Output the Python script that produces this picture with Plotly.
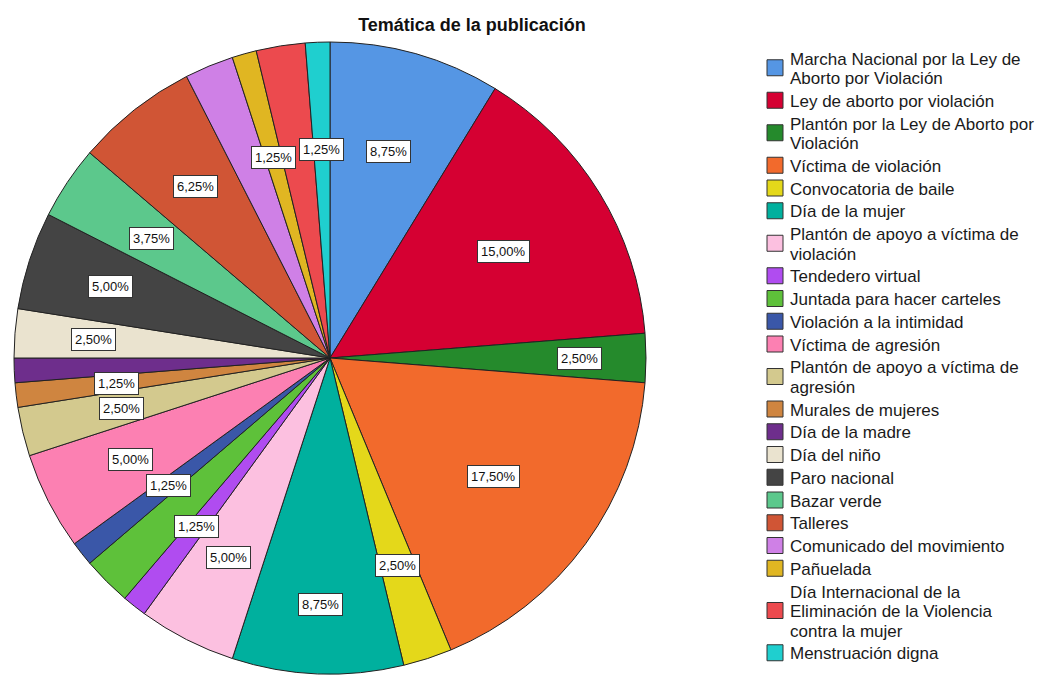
import math
import plotly.graph_objects as go

categories = [
    "Marcha Nacional por la Ley de<br>Aborto por Violación",
    "Ley de aborto por violación",
    "Plantón por la Ley de Aborto por<br>Violación",
    "Víctima de violación",
    "Convocatoria de baile",
    "Día de la mujer",
    "Plantón de apoyo a víctima de<br>violación",
    "Tendedero virtual",
    "Juntada para hacer carteles",
    "Violación a la intimidad",
    "Víctima de agresión",
    "Plantón de apoyo a víctima de<br>agresión",
    "Murales de mujeres",
    "Día de la madre",
    "Día del niño",
    "Paro nacional",
    "Bazar verde",
    "Talleres",
    "Comunicado del movimiento",
    "Pañuelada",
    "Día Internacional de la<br>Eliminación de la Violencia<br>contra la mujer",
    "Menstruación digna",
]
percentages = [8.75, 15.00, 2.50, 17.50, 2.50, 8.75, 5.00, 1.25, 2.50, 1.25, 5.00,
               2.50, 1.25, 1.25, 2.50, 5.00, 3.75, 6.25, 2.50, 1.25, 2.50, 1.25]
label_shown = [True, True, True, True, True, True, True, True, False, True, True,
               True, True, False, True, True, True, True, False, True, False, True]
colors = ["#5596E4", "#D50032", "#258A2C", "#F26A2C", "#E4D81A", "#00B09E",
          "#FCC0E0", "#B04CF0", "#5EC13A", "#3A57A8", "#FC80B2", "#D3C98E",
          "#CF8540", "#6E2E8C", "#EAE3CF", "#444444", "#5CC88C", "#D05535",
          "#CF80E6", "#E0B622", "#EC4A4E", "#1FCFCF"]

# layout tuning (pixels / fractions of radius), not data
W, H = 1050, 679
CX, CY, R = 330, 358, 316
label_radius = [0.68, 0.645, 0.79, 0.64, 0.69, 0.78, 0.71, 0.68, 0.68, 0.65, 0.71,
                0.68, 0.68, 0.68, 0.75, 0.73, 0.68, 0.69, 0.68, 0.66, 0.68, 0.66]
FONT = "Liberation Sans, Arial"
LEG_X_SQ, LEG_SQ, LEG_X_TXT = 767, 16, 789
LEG_Y0, LEG_GAP, LEG_LINE = 59, 22.75, 19.5
LEG_FONT = 17

fig = go.Figure(go.Pie(
    labels=categories,
    values=percentages,
    sort=False,
    direction="clockwise",
    rotation=0,
    marker=dict(colors=colors, line=dict(color="#222222", width=1)),
    textinfo="none",
    hoverinfo="label+percent",
    showlegend=False,
    domain=dict(x=[(CX - R) / W, (CX + R) / W], y=[1 - (CY + R) / H, 1 - (CY - R) / H]),
))

annotations = []
shapes = []
total = sum(percentages)
cum = 0.0
for v, show, lr in zip(percentages, label_shown, label_radius):
    mid = (cum + v / 2) / total * 2 * math.pi
    cum += v
    if not show:
        continue
    px = CX + lr * R * math.sin(mid)
    py = CY - lr * R * math.cos(mid)
    annotations.append(dict(
        x=px / W, y=1 - py / H, xref="paper", yref="paper",
        text=f"{v:.2f}%".replace(".", ","), showarrow=False,
        font=dict(family=FONT, size=13, color="#111111"),
        bgcolor="white", bordercolor="#333333", borderwidth=1, borderpad=3,
        xanchor="center", yanchor="middle",
    ))

# legend built line by line
y = LEG_Y0
for name, col in zip(categories, colors):
    lines = name.split("<br>")
    for i, line in enumerate(lines):
        annotations.append(dict(
            x=LEG_X_TXT / W, y=1 - (y + i * LEG_LINE) / H, xref="paper", yref="paper",
            text=line, showarrow=False, xanchor="left", yanchor="middle",
            font=dict(family=FONT, size=LEG_FONT, color="#1a1a1a"),
            borderpad=0,
        ))
    ymid = y + (len(lines) - 1) * LEG_LINE / 2 - 1
    shapes.append(dict(
        type="rect", xref="paper", yref="paper",
        x0=LEG_X_SQ / W, x1=(LEG_X_SQ + LEG_SQ) / W,
        y0=1 - (ymid - LEG_SQ / 2) / H, y1=1 - (ymid + LEG_SQ / 2) / H,
        fillcolor=col, line=dict(color="#333333", width=1),
    ))
    y += (len(lines) - 1) * LEG_LINE + LEG_GAP

fig.update_layout(
    width=W, height=H,
    margin=dict(l=0, r=0, t=0, b=0),
    paper_bgcolor="white",
    title=dict(text="<b>Temática de la publicación</b>", x=472 / W, xanchor="center",
               y=1 - 25 / H, yanchor="middle",
               font=dict(family=FONT, size=18, color="#111111")),
    annotations=annotations,
    shapes=shapes,
)

fig.write_html("out.html", config={"displayModeBar": False},
               post_script="document.body.style.margin='0px';")
